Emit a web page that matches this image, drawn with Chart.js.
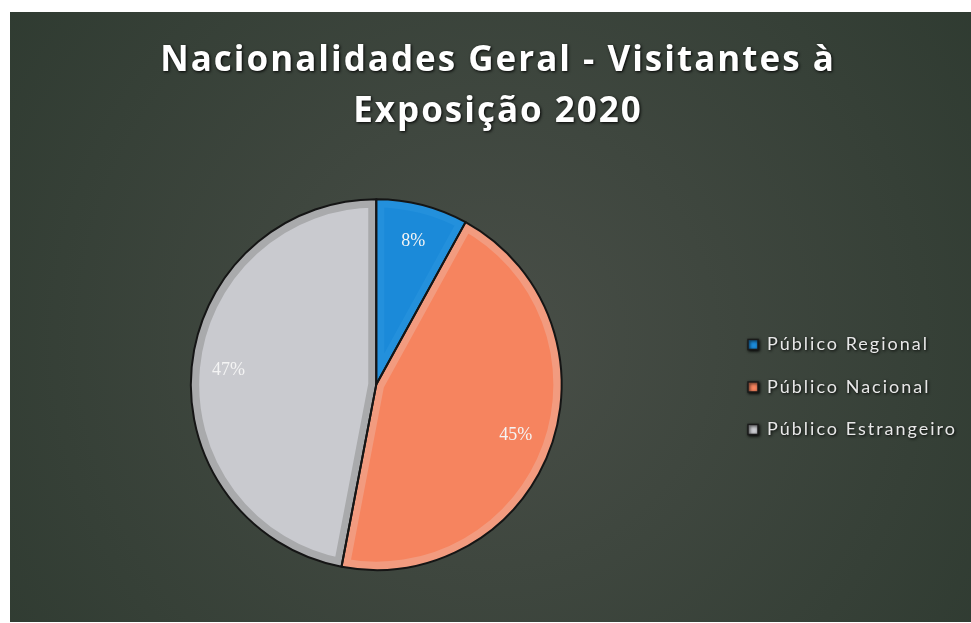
<!DOCTYPE html>
<html>
<head>
<meta charset="utf-8">
<script src="https://cdn.jsdelivr.net/npm/chart.js@4/dist/chart.umd.min.js"></script>
<style>
  html, body { margin: 0; padding: 0; background: #ffffff; }
  #wrap { width: 971px; height: 623px; position: relative; }
</style>
</head>
<body>
<div id="wrap"><canvas id="c" width="971" height="623"></canvas></div>
<script>
const titleLines = ['Nacionalidades Geral - Visitantes à', 'Exposição 2020'];
const categories = ['Público Regional', 'Público Nacional', 'Público Estrangeiro'];
const values = [8, 45, 47];
const fillColors = ['#1b8ad9', '#f6845f', '#c9cacf'];
const bandColors = ['#2390dc', '#f29b7f', '#a9aaac'];

const TEXT_SPACING = '2px';

const backgroundPlugin = {
  id: 'bgFrame',
  beforeLayout(chart) {
    chart.ctx.letterSpacing = TEXT_SPACING;
  },
  afterLayout(chart) {
    chart.ctx.letterSpacing = '0px';
  },
  beforeDraw(chart) {
    const ctx = chart.ctx;
    const W = chart.width, H = chart.height;
    ctx.save();
    ctx.fillStyle = '#ffffff';
    ctx.fillRect(0, 0, W, H);
    const g = ctx.createRadialGradient(490, 340, 40, 490, 340, 620);
    g.addColorStop(0, '#474d46');
    g.addColorStop(1, '#2e3a30');
    ctx.fillStyle = g;
    ctx.fillRect(10, 12, W - 10, H - 13);
    ctx.restore();
    ctx.letterSpacing = TEXT_SPACING;
    ctx.shadowColor = 'rgba(0,0,0,0.95)';
    ctx.shadowBlur = 3;
    ctx.shadowOffsetX = 1;
    ctx.shadowOffsetY = 1;
  },
  beforeDatasetsDraw(chart) {
    const ctx = chart.ctx;
    ctx.letterSpacing = '0px';
    ctx.shadowColor = 'rgba(0,0,0,0)';
    ctx.shadowBlur = 0;
    ctx.shadowOffsetX = 0;
    ctx.shadowOffsetY = 0;
  }
};

const outlinePlugin = {
  id: 'outline',
  afterDatasetsDraw(chart) {
    const ctx = chart.ctx;
    const meta = chart.getDatasetMeta(0);
    ctx.save();
    ctx.strokeStyle = '#151515';
    ctx.lineWidth = 2;
    ctx.lineJoin = 'round';
    meta.data.forEach(arc => {
      const p = arc.getProps(['x', 'y', 'startAngle', 'endAngle', 'outerRadius']);
      ctx.beginPath();
      ctx.moveTo(p.x, p.y);
      ctx.arc(p.x, p.y, p.outerRadius, p.startAngle, p.endAngle);
      ctx.closePath();
      ctx.stroke();
    });
    ctx.fillStyle = '#f4f4f4';
    ctx.font = '18px "Liberation Serif", serif';
    ctx.textAlign = 'center';
    ctx.textBaseline = 'middle';
    meta.data.forEach((arc, i) => {
      const p = arc.getProps(['x', 'y', 'startAngle', 'endAngle', 'outerRadius']);
      const mid = (p.startAngle + p.endAngle) / 2;
      const r = p.outerRadius * 0.8;
      ctx.fillText(values[i] + '%', p.x + Math.cos(mid) * r, p.y + Math.sin(mid) * r);
    });
    ctx.restore();
  }
};

new Chart(document.getElementById('c'), {
  type: 'pie',
  data: {
    labels: categories,
    datasets: [{
      data: values,
      backgroundColor: fillColors,
      borderColor: bandColors,
      borderWidth: 8,
      borderAlign: 'inner'
    }]
  },
  options: {
    responsive: false,
    animation: false,
    events: [],
    layout: { padding: { top: 35, bottom: 53, left: 29, right: 4 } },
    plugins: {
      title: {
        display: true,
        text: titleLines,
        color: '#ffffff',
        font: { family: 'Open Sans', size: 35, weight: 'bold', lineHeight: 1.46 },
        padding: { top: 0, bottom: 62 }
      },
      legend: {
        position: 'right',
        title: {
          display: true,
          text: ' ',
          font: { size: 10 },
          padding: { top: 0, bottom: 157 }
        },
        labels: {
          color: '#e8e8e8',
          font: { family: 'Lato', size: 18 },
          boxWidth: 10,
          boxHeight: 10,
          padding: 24.5,
          generateLabels(chart) {
            return categories.map((c, i) => ({
              text: c,
              fillStyle: fillColors[i],
              strokeStyle: '#1a1a1a',
              lineWidth: 1.5,
              hidden: false,
              index: i,
              fontColor: '#e8e8e8'
            }));
          }
        }
      },
      tooltip: { enabled: false }
    }
  },
  plugins: [backgroundPlugin, outlinePlugin]
});
</script>
</body>
</html>
